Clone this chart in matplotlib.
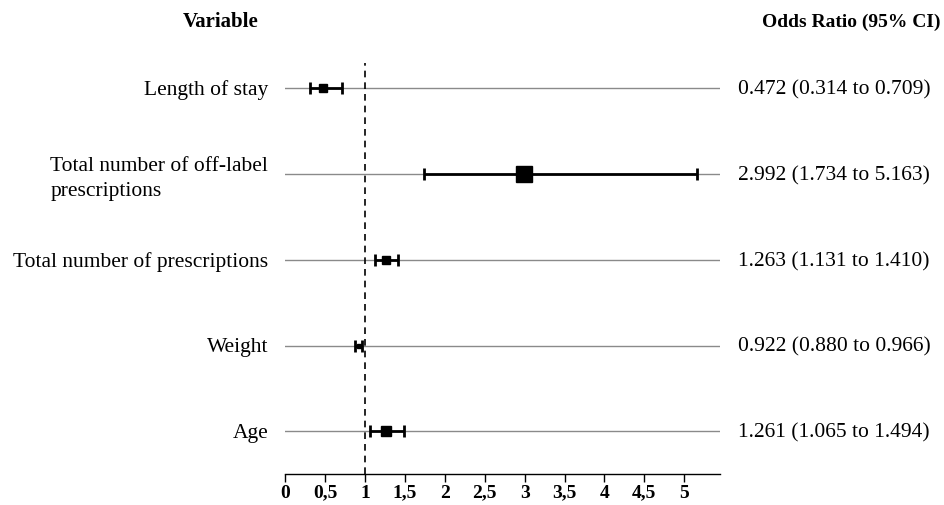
#!/usr/bin/env python3
"""forest plot of odds ratios"""

import matplotlib
matplotlib.use("Agg")
import matplotlib.pyplot as plt
import matplotlib.transforms as mtransforms

variables = ["Length of stay",
             "Total number of off-label\nprescriptions",
             "Total number of prescriptions",
             "Weight",
             "Age"]
odds = [0.472, 2.992, 1.263, 0.922, 1.261]
lower = [0.314, 1.734, 1.131, 0.880, 1.065]
upper = [0.709, 5.163, 1.410, 0.966, 1.494]
box_sizes = [6, 12, 6, 3, 6.5]
xticks = [0, 0.5, 1, 1.5, 2, 2.5, 3, 3.5, 4, 4.5, 5]

plt.rcParams['font.family'] = ['Liberation Serif', 'DejaVu Serif']

fig = plt.figure(figsize=(9.44, 5.05), dpi=100)
ax = fig.add_axes([0.302, 0.061, 0.461, 0.815])

ypos = list(range(len(variables), 0, -1))
trans = mtransforms.blended_transform_factory(ax.transAxes, ax.transData)

for y, name, o, lo, hi, s in zip(ypos, variables, odds, lower, upper, box_sizes):
    ax.axhline(y, color='#8a8a8a', lw=1, zorder=1)
    ax.errorbar(o, y, xerr=[[o - lo], [hi - o]], fmt='none', ecolor='black',
                elinewidth=2, capsize=4, capthick=2, zorder=3)
    ax.plot(o, y, marker='s', ms=s, color='black', zorder=4)
    if "\n" in name:
        ax.text(-0.039, y - 0.06, name, transform=trans, ha='right',
                va='center', multialignment='left', fontsize=15.5,
                linespacing=1.4)
    else:
        ax.text(-0.039, y - 0.02, name, transform=trans, ha='right',
                va='center', fontsize=15.5)
    ax.text(1.041, y - 0.02, "%.3f (%.3f to %.3f)" % (o, lo, hi),
            transform=trans, ha='left', va='center', fontsize=15.5)

ax.axvline(1, color='black', lw=1.2, ls=(0, (4, 3)), zorder=2)

ax.set_xlim(0, 5.45)
ax.set_ylim(0.5, 5.3)
ax.set_xticks(xticks)
ax.set_xticklabels([("%g" % t).replace(".", ",") for t in xticks],
                   fontweight='bold', fontsize=14)
ax.tick_params(axis='x', direction='out', length=6, width=1, pad=1.5)
ax.set_yticks([])
for side in ['top', 'right', 'left']:
    ax.spines[side].set_visible(False)
ax.spines['bottom'].set_linewidth(1)

fig.text(221 / 944, 1 - 22 / 505, "Variable", ha='center', va='center',
         fontsize=15, fontweight='bold')
fig.text(940 / 944, 1 - 22 / 505, "Odds Ratio (95% CI)", ha='right',
         va='center', fontsize=14, fontweight='bold')

fig.savefig("out.png", dpi=100, facecolor='white')
